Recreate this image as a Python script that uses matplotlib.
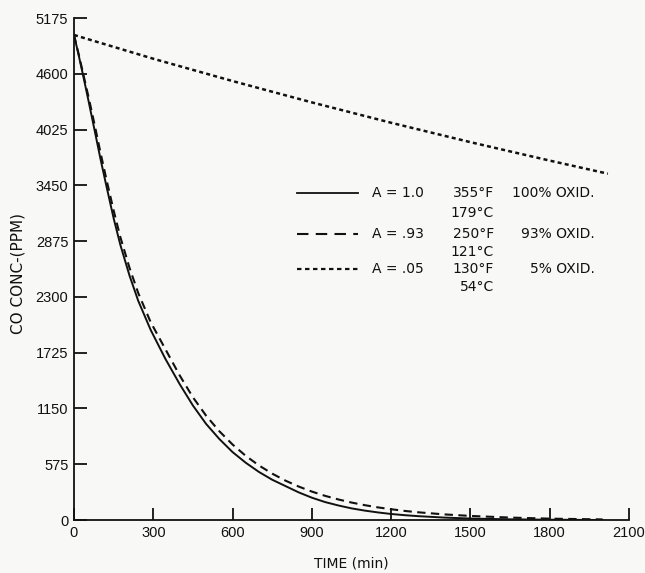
import matplotlib
matplotlib.use("Agg")
import matplotlib.pyplot as plt
from matplotlib.lines import Line2D
from matplotlib import font_manager

# ---- data ----
solid_t = [0, 17, 34, 55, 80, 100, 122, 150, 175, 210, 243, 290, 346, 400, 450, 500,
           550, 600, 650, 700, 750, 800, 850, 900, 950, 1000, 1050, 1100, 1150, 1200,
           1250, 1300, 1400, 1500, 1650, 1800, 2000]
solid_c = [5000, 4800, 4590, 4320, 3990, 3725, 3450, 3110, 2840, 2520, 2260, 1960,
           1660, 1400, 1180, 990, 835, 700, 590, 495, 415, 350, 285, 230, 185, 150,
           120, 97, 78, 62, 50, 40, 25, 15, 7, 3, 0]

dashed_t = [0, 17, 34, 55, 80, 100, 122, 150, 175, 210, 243, 290, 346, 400, 450, 500,
            550, 600, 650, 700, 750, 800, 850, 900, 950, 1000, 1050, 1100, 1150, 1200,
            1250, 1300, 1400, 1500, 1650, 1800, 2000]
dashed_c = [5000, 4810, 4610, 4360, 4050, 3790, 3520, 3190, 2920, 2600, 2340, 2040,
            1760, 1490, 1265, 1075, 915, 778, 661, 562, 478, 406, 345, 293, 249, 212,
            180, 153, 130, 111, 94, 80, 58, 42, 25, 14, 6]

dotted_t = [0, 300, 600, 900, 1200, 1500, 1800, 2020]
dotted_c = [5000, 4755, 4525, 4305, 4095, 3895, 3705, 3570]

x_ticks = [0, 300, 600, 900, 1200, 1500, 1800, 2100]
y_ticks = [0, 575, 1150, 1725, 2300, 2875, 3450, 4025, 4600, 5175]

legend_a = ["A = 1.0", "A = .93", "A = .05"]
legend_f = ["355°F", "250°F", "130°F"]
legend_c = ["179°C", "121°C", "54°C"]
legend_p = ["100% OXID.", "93% OXID.", "5% OXID."]

# ---- fonts ----
installed = {f.name for f in font_manager.fontManager.ttflist}
narrow = 'Liberation Sans Narrow' if 'Liberation Sans Narrow' in installed else 'Liberation Sans'
tick_font = dict(family=[narrow, 'DejaVu Sans'], size=11.5 if narrow.endswith('Narrow') else 10.5)
text_family = ['DejaVu Sans']

# ---- figure ----
W, H = 645, 573
bg = '#f8f8f6'
ink = '#111111'
fig = plt.figure(figsize=(W / 100, H / 100), dpi=100, facecolor=bg)
ax = fig.add_axes([74 / W, 1 - 520 / H, (629 - 74) / W, (520 - 18) / H], facecolor=bg)

ax.plot(solid_t, solid_c, color=ink, lw=1.4)
ax.plot(dashed_t, dashed_c, color=ink, lw=1.5, dashes=(4.0, 2.6))
ax.plot(dotted_t, dotted_c, color=ink, lw=1.8, dashes=(1.6, 1.3))

ax.set_xlim(0, 2100)
ax.set_ylim(0, 5175)
ax.set_xticks(x_ticks)
ax.set_yticks(y_ticks)
ax.set_xticklabels([str(v) for v in x_ticks], **tick_font)
ax.set_yticklabels([str(v) for v in y_ticks], **tick_font)
for s in ['top', 'right']:
    ax.spines[s].set_visible(False)
for s in ['left', 'bottom']:
    ax.spines[s].set_linewidth(1.3)
    ax.spines[s].set_color(ink)
ax.tick_params(direction='in', length=9, width=1.3, color=ink, labelcolor=ink)
ax.tick_params(axis='x', pad=4)
ax.tick_params(axis='y', pad=4)

ax.set_xlabel("TIME (min)", fontsize=10, family=text_family, color=ink, labelpad=12)
fig.text(18 / W, 1 - 273 / H, "CO CONC-(PPM)", rotation=90, fontsize=11,
         family=text_family, color=ink, ha='center', va='center')

# ---- legend (text block inside plot) ----
row_y = [193, 234, 269]
sub_y = [213, 252, 287]
styles = [dict(lw=1.3), dict(lw=1.5, dashes=(5.5, 3.5)), dict(lw=1.6, dashes=(2.0, 1.6))]
fs = 10
for i in range(3):
    fy = 1 - row_y[i] / H
    fig.add_artist(Line2D([297 / W, 358 / W], [fy, fy], color=ink, **styles[i]))
    kw = dict(fontsize=fs, family=text_family, color=ink, va='center')
    fig.text(372 / W, fy, legend_a[i], ha='left', **kw)
    fig.text(494 / W, fy, legend_f[i], ha='right', **kw)
    fig.text(494 / W, 1 - sub_y[i] / H, legend_c[i], ha='right', **kw)
    fig.text(595 / W, fy, legend_p[i], ha='right', **kw)

fig.savefig("out.png", dpi=100, facecolor=bg)
